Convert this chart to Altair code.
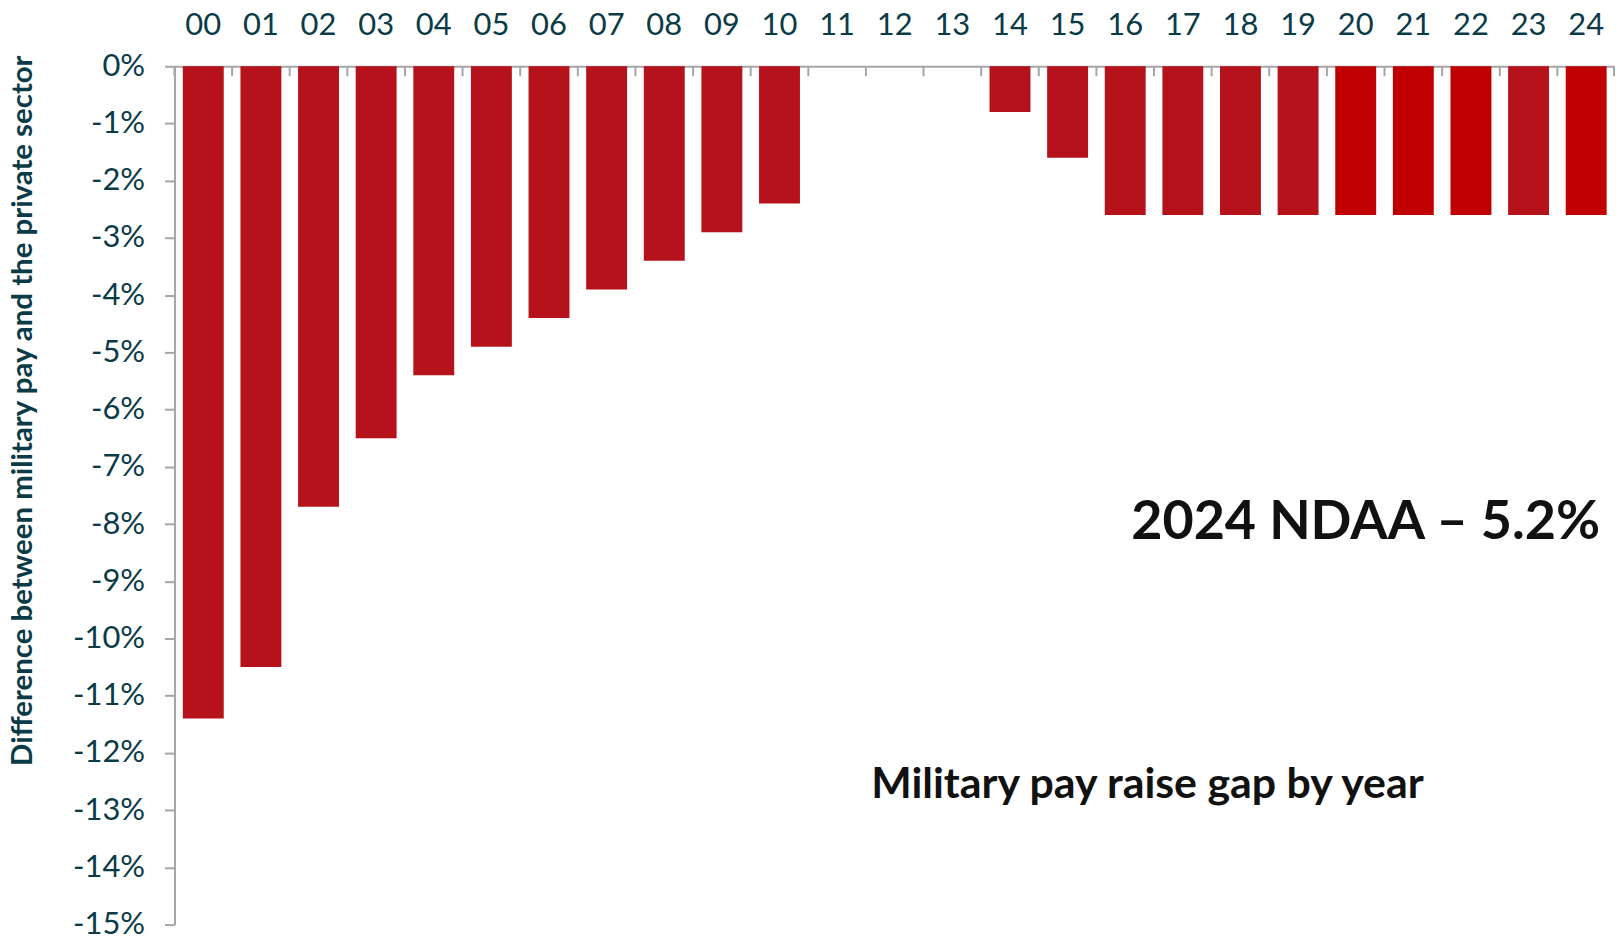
import altair as alt
import pandas as pd

years = ["00","01","02","03","04","05","06","07","08","09","10","11","12",
         "13","14","15","16","17","18","19","20","21","22","23","24"]
gap = [-11.4,-10.5,-7.7,-6.5,-5.4,-4.9,-4.4,-3.9,-3.4,-2.9,-2.4,0,0,0,
       -0.8,-1.6,-2.6,-2.6,-2.6,-2.6,-2.6,-2.6,-2.6,-2.6,-2.6]
highlight_years = ["20","21","22","24"]
y_title = "Difference between military pay and the private sector"
note_main = "2024 NDAA \u2013 5.2%"
note_sub = "Military pay raise gap by year"

df = pd.DataFrame({"year": years, "gap": gap})
df["hl"] = df["year"].isin(highlight_years)

TXT = "#0C3B48"
AX = "#A6A6A6"
W, H = 1445, 861
step = W / len(years)
pin = 0.29

xscale = alt.Scale(domain=years, paddingInner=pin, paddingOuter=pin / 2)
yscale = alt.Scale(domain=[-15, 0], nice=False)

bars = alt.Chart(df).mark_bar(strokeWidth=0).encode(
    x=alt.X("year:N", scale=xscale, sort=years,
            axis=alt.Axis(orient="top", title=None, ticks=False, labelAngle=0,
                          labelFont="Lato", labelFontSize=31, labelColor=TXT,
                          labelPadding=32, labelBaseline="alphabetic",
                          domainColor=AX, domainWidth=2)),
    y=alt.Y("gap:Q", scale=yscale,
            axis=alt.Axis(values=list(range(-15, 1)), labelExpr="datum.value + '%'",
                          title=y_title, titleFont="Lato", titleFontSize=29.5,
                          titleFontWeight="bold", titleColor=TXT,
                          titleAngle=270, titleX=-152, titleY=345,
                          titleAlign="center", titleBaseline="middle",
                          labelFont="Lato", labelFontSize=31, labelColor=TXT,
                          labelPadding=20, tickSize=10, tickColor=AX, tickWidth=2,
                          domainColor=AX, domainWidth=2, grid=False)),
    y2=alt.datum(0),
    color=alt.condition("datum.hl", alt.value("#C00000"), alt.value("#B5121B")),
)

ticks = alt.Chart(df).mark_rule(color=AX, strokeWidth=2).encode(
    x=alt.X("year:N", scale=xscale, sort=years, bandPosition=0),
    xOffset=alt.value(-pin * step / 2),
    y=alt.value(0),
    y2=alt.value(10),
)

end_tick = alt.Chart(pd.DataFrame({"k": [0]})).mark_rule(color=AX, strokeWidth=2).encode(
    x=alt.value(W - 1),
    y=alt.value(0),
    y2=alt.value(10),
)

t1 = alt.Chart(pd.DataFrame({"t": [note_main]})).mark_text(
    font="Lato", fontSize=54, fontWeight="bold", color="#111111",
    align="right", baseline="middle").encode(
    text="t:N", x=alt.value(1430), y=alt.value(458))

t2 = alt.Chart(pd.DataFrame({"t": [note_sub]})).mark_text(
    font="Lato", fontSize=43, fontWeight="bold", color="#111111",
    align="center", baseline="middle").encode(
    text="t:N", x=alt.value(976), y=alt.value(721))

chart = alt.layer(bars, ticks, end_tick, t1, t2).properties(
    width=W, height=H,
    autosize=alt.AutoSizeParams(type="none"),
    padding={"left": 167, "top": 57, "right": 0, "bottom": 12},
).configure_view(stroke=None)

chart.save("out.html", embed_options={"renderer": "svg", "actions": False})
